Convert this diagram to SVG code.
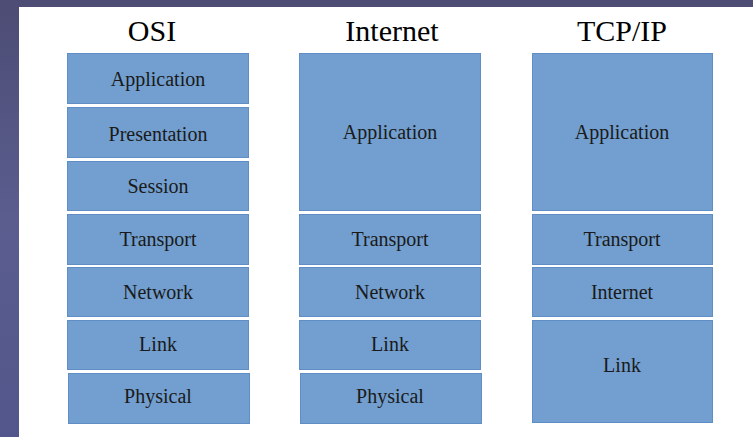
<svg xmlns="http://www.w3.org/2000/svg" width="753" height="437" viewBox="0 0 753 437">
  <defs>
    <linearGradient id="frame" x1="0" y1="0" x2="0" y2="1">
      <stop offset="0" stop-color="#4c4c74"/>
      <stop offset="0.5" stop-color="#5a5d8e"/>
      <stop offset="1" stop-color="#53568a"/>
    </linearGradient>
    <style>
      .layer { fill: #729fcf; stroke: #5f8dc6; stroke-width: 1; }
      .label { font-family: "Liberation Serif", "Times New Roman", serif; font-size: 20px; fill: #1a1a1a; text-anchor: middle; }
      .title { font-family: "Liberation Serif", "Times New Roman", serif; font-size: 30px; fill: #000000; text-anchor: middle; }
    </style>
  </defs>

  <!-- slide frame and page -->
  <rect x="0" y="0" width="753" height="437" fill="url(#frame)"/>
  <rect x="19" y="7" width="734" height="430" fill="#ffffff"/>

  <!-- column headings -->
  <text class="title" x="152" y="41">OSI</text>
  <text class="title" x="392" y="41">Internet</text>
  <text class="title" x="622" y="41">TCP/IP</text>

  <!-- OSI stack -->
  <g id="osi-application"><rect class="layer" x="67.5" y="53.5" width="181" height="50"/><text class="label" x="158" y="86">Application</text></g>
  <g id="osi-presentation"><rect class="layer" x="67.5" y="107.5" width="181" height="50"/><text class="label" x="158" y="140.5">Presentation</text></g>
  <g id="osi-session"><rect class="layer" x="67.5" y="161.5" width="181" height="49"/><text class="label" x="158" y="193">Session</text></g>
  <g id="osi-transport"><rect class="layer" x="67.5" y="214.5" width="181" height="50"/><text class="label" x="158" y="246">Transport</text></g>
  <g id="osi-network"><rect class="layer" x="67.5" y="267.5" width="181" height="49"/><text class="label" x="158" y="299">Network</text></g>
  <g id="osi-link"><rect class="layer" x="67.5" y="320.5" width="181" height="49"/><text class="label" x="158" y="351">Link</text></g>
  <g id="osi-physical"><rect class="layer" x="68.5" y="373.5" width="181" height="50"/><text class="label" x="158" y="403">Physical</text></g>

  <!-- Internet stack -->
  <g id="inet-application"><rect class="layer" x="299.5" y="53.5" width="181" height="157"/><text class="label" x="390" y="139">Application</text></g>
  <g id="inet-transport"><rect class="layer" x="299.5" y="214.5" width="181" height="50"/><text class="label" x="390" y="246">Transport</text></g>
  <g id="inet-network"><rect class="layer" x="299.5" y="267.5" width="181" height="49"/><text class="label" x="390" y="299">Network</text></g>
  <g id="inet-link"><rect class="layer" x="299.5" y="320.5" width="181" height="49"/><text class="label" x="390" y="351">Link</text></g>
  <g id="inet-physical"><rect class="layer" x="300.5" y="373.5" width="181" height="50"/><text class="label" x="390" y="403">Physical</text></g>

  <!-- TCP/IP stack -->
  <g id="tcpip-application"><rect class="layer" x="532.5" y="53.5" width="180" height="157"/><text class="label" x="622" y="139">Application</text></g>
  <g id="tcpip-transport"><rect class="layer" x="532.5" y="214.5" width="180" height="50"/><text class="label" x="622" y="246">Transport</text></g>
  <g id="tcpip-internet"><rect class="layer" x="532.5" y="267.5" width="180" height="49"/><text class="label" x="622" y="299">Internet</text></g>
  <g id="tcpip-link"><rect class="layer" x="532.5" y="320.5" width="180" height="102"/><text class="label" x="622" y="372">Link</text></g>

  <g id="connectors"/>
</svg>
